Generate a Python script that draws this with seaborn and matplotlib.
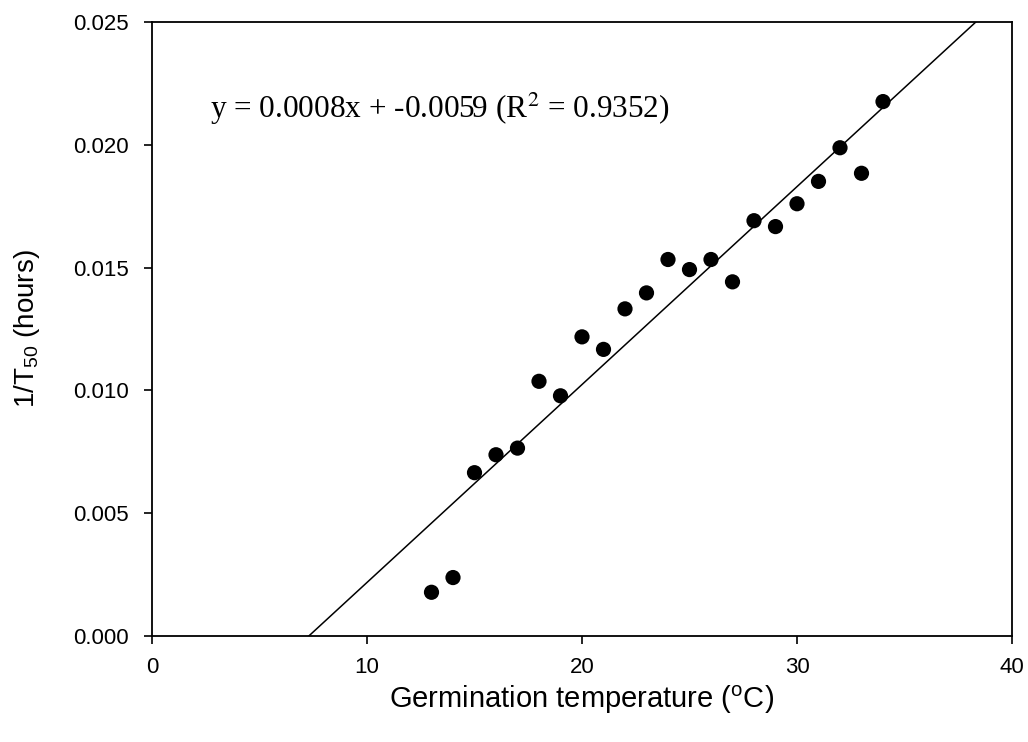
import numpy as np
import pandas as pd
import matplotlib
matplotlib.use("Agg")
import matplotlib.pyplot as plt
import seaborn as sns

temps = [13, 14, 15, 16, 17, 18, 19, 20, 21, 22, 23, 24, 25, 26, 27, 28, 29, 30, 31, 32, 33, 34]
rates = [0.00178, 0.00238, 0.00665, 0.00738, 0.00765, 0.01037, 0.00978, 0.01218, 0.01167,
         0.01332, 0.01397, 0.01533, 0.01492, 0.01533, 0.01442, 0.01691, 0.01667, 0.01760,
         0.01851, 0.01988, 0.01884, 0.02176]
x_ticks = [0, 10, 20, 30, 40]
y_ticks = [0.000, 0.005, 0.010, 0.015, 0.020, 0.025]
equation = "y = 0.0008x + -0.0059 (R$^2$ = 0.9352)"

sns.set_style("ticks")
plt.rcParams['font.family'] = ['Liberation Sans', 'DejaVu Sans']
plt.rcParams['mathtext.fontset'] = 'custom'
plt.rcParams['mathtext.rm'] = 'Liberation Sans'
plt.rcParams['mathtext.it'] = 'Liberation Sans'
plt.rcParams['text.color'] = 'black'
plt.rcParams['axes.labelcolor'] = 'black'

df = pd.DataFrame({"temp": temps, "rate": rates})

fig = plt.figure(figsize=(10.28, 7.42), dpi=100)
ax = fig.add_axes([152/1028, 106/742, 860/1028, 614/742])
ax.set_xlim(0, 40)
ax.set_ylim(0, 0.025)

sns.regplot(data=df, x="temp", y="rate", ax=ax, ci=None, truncate=False,
            scatter_kws=dict(s=120, color="black", edgecolor="none", alpha=1, zorder=3),
            line_kws=dict(color="black", linewidth=1.1))
ax.set_xlim(0, 40)
ax.set_ylim(0, 0.025)

ax.set_xticks(x_ticks)
ax.set_yticks(y_ticks)
ax.set_xticklabels([str(v) for v in x_ticks])
ax.set_yticklabels([f"{v:.3f}" for v in y_ticks])
ax.tick_params(axis="both", direction="out", length=6, width=1.2, labelsize=16,
               colors="black")
ax.tick_params(axis="x", pad=9)
ax.tick_params(axis="y", pad=11)
for sp in ax.spines.values():
    sp.set_visible(True)
    sp.set_linewidth(1.3)
    sp.set_color("black")

ax.set_xlabel("Germination temperature ($^{\\mathrm{o}}$C)", fontsize=21, labelpad=4,
              color="black")
ax.set_ylabel("1/T$_{50}$ (hours)", fontsize=20, labelpad=22, color="black")

ax.text(2.7, 0.02145, equation, fontsize=22.5, family="Liberation Serif",
        math_fontfamily="stix", va="center", ha="left", color="black")

fig.savefig("out.png", dpi=100)
